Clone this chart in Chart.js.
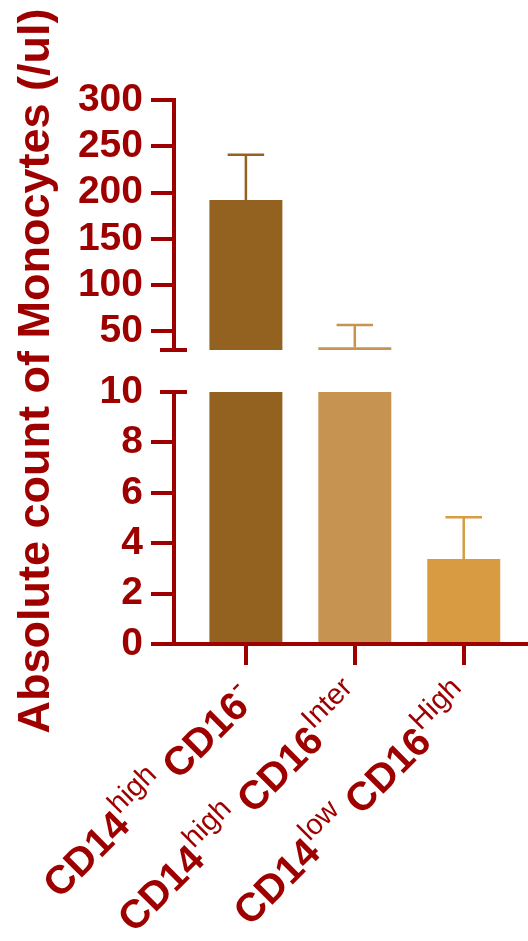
<!DOCTYPE html>
<html>
<head>
<meta charset="utf-8">
<script src="https://cdn.jsdelivr.net/npm/chart.js@4.4.1/dist/chart.umd.min.js"></script>
<style>
  html, body { margin: 0; padding: 0; background: #fff; }
  #wrap { width: 528px; height: 941px; position: relative; }
</style>
</head>
<body>
<div id="wrap"><canvas id="myChart"></canvas></div>
<script>
// data
const categories = [
    ['CD14', 'high', 'CD16', '-'],
    ['CD14', 'high', 'CD16', 'Inter'],
    ['CD14', 'low', 'CD16', 'High']
];
const counts = [192, 33, 3.37];
const errors = [49, 24, 1.66];
const barColors = ['#946220', '#C69450', '#D89B42'];
const lowAxis = [0, 10, 2];      // min, max, step (lower segment)
const highAxis = [30, 300, 50];  // min, max, step (upper segment)
const yTitle = 'Absolute count of Monocytes (/ul)';

const red = '#9E0000';
const family = "'Liberation Sans', Arial, sans-serif";
const mainFont = 'bold 40px ' + family;
const supFont = '29px ' + family;
const raise = 18;

// each bar is cut in two pieces, one per axis segment
const lowData = counts.map((v, i) => ({x: i + 1, y: Math.min(v, lowAxis[1])}));
const highData = counts.map((v, i) => ({x: i + 1, y: v > highAxis[0] ? [highAxis[0], v] : null}));

function fixWidth(scale) {
    scale.width = 174;
}

// upper whisker + cap
const errorBars = {
    id: 'errorBars',
    afterDatasetsDraw(chart) {
        const ctx = chart.ctx;
        ctx.save();
        ctx.lineWidth = 2.5;
        counts.forEach((v, i) => {
            const onHigh = v > lowAxis[1];
            const bar = chart.getDatasetMeta(onHigh ? 1 : 0).data[i];
            const scale = chart.scales[onHigh ? 'yHigh' : 'yLow'];
            const y0 = scale.getPixelForValue(v);
            const y1 = scale.getPixelForValue(v + errors[i]);
            const half = bar.width / 4;
            ctx.strokeStyle = barColors[i];
            ctx.beginPath();
            ctx.moveTo(bar.x, y0);
            ctx.lineTo(bar.x, y1);
            ctx.moveTo(bar.x - half, y1);
            ctx.lineTo(bar.x + half, y1);
            ctx.stroke();
        });
        ctx.restore();
    }
};

// little bars where the y axis is broken
const axisBreak = {
    id: 'axisBreak',
    afterDraw(chart) {
        const ctx = chart.ctx;
        const ax = chart.chartArea.left;
        const ys = [
            chart.scales.yHigh.getPixelForValue(highAxis[0]),
            chart.scales.yLow.getPixelForValue(lowAxis[1])
        ];
        ctx.save();
        ctx.strokeStyle = red;
        ctx.lineWidth = 4;
        ys.forEach(y => {
            ctx.beginPath();
            ctx.moveTo(ax - 14, y);
            ctx.lineTo(ax + 13, y);
            ctx.stroke();
        });
        ctx.restore();
    }
};

// rotated x labels with superscripts
const xLabels = {
    id: 'xLabels',
    afterDraw(chart) {
        const ctx = chart.ctx;
        const x = chart.scales.x;
        ctx.save();
        ctx.fillStyle = red;
        ctx.textAlign = 'left';
        ctx.textBaseline = 'alphabetic';
        categories.forEach((parts, i) => {
            const pieces = [
                [parts[0], mainFont, raise],
                [parts[1], supFont, 0],
                [' ' + parts[2], mainFont, raise],
                [parts[3], supFont, 0]
            ];
            let total = 0;
            pieces.forEach(p => {
                ctx.font = p[1];
                p.push(ctx.measureText(p[0]).width);
                total += p[3];
            });
            ctx.save();
            ctx.translate(x.getPixelForValue(i + 1) - 1, x.top + 45);
            ctx.rotate(-Math.PI / 4);
            let pos = -total;
            pieces.forEach(p => {
                ctx.font = p[1];
                ctx.fillText(p[0], pos, p[2]);
                pos += p[3];
            });
            ctx.restore();
        });
        ctx.restore();
    }
};

const tickFont = {family: family, size: 39, weight: 'bold'};

var ctx = document.getElementById('myChart').getContext('2d');
var myChart = new Chart(ctx, {
    type: 'bar',
    data: {
        datasets: [{
            data: lowData,
            yAxisID: 'yLow',
            backgroundColor: barColors,
            borderWidth: 0,
            grouped: false,
            categoryPercentage: 1,
            barPercentage: 0.67
        }, {
            data: highData,
            yAxisID: 'yHigh',
            backgroundColor: barColors,
            borderWidth: 0,
            grouped: false,
            categoryPercentage: 1,
            barPercentage: 0.67
        }]
    },
    options: {
        responsive: true,
        maintainAspectRatio: false,
        animation: false,
        events: [],
        layout: {
            padding: {top: 100, right: 0, bottom: 276, left: 0}
        },
        plugins: {
            legend: {display: false},
            tooltip: {enabled: false}
        },
        scales: {
            x: {
                type: 'linear',
                offset: false,
                min: 0.34,
                max: 3.59,
                afterBuildTicks: s => { s.ticks = categories.map((c, i) => ({value: i + 1})); },
                ticks: {display: false},
                grid: {offset: false, drawOnChartArea: false, drawTicks: true, tickLength: 21, color: red, lineWidth: 4},
                border: {color: red, width: 4}
            },
            yLow: {
                type: 'linear',
                position: 'left',
                stack: 'y',
                stackWeight: 252,
                weight: 0,
                stacked: false,
                min: lowAxis[0],
                max: lowAxis[1],
                afterFit: fixWidth,
                ticks: {stepSize: lowAxis[2], autoSkip: false, color: red, font: tickFont, padding: 8},
                grid: {
                    drawOnChartArea: false,
                    tickLength: 23,
                    lineWidth: 4,
                    color: c => (c.tick && c.tick.value === lowAxis[1]) ? 'rgba(0,0,0,0)' : red
                },
                border: {color: red, width: 4}
            },
            yGap: {
                type: 'linear',
                position: 'left',
                stack: 'y',
                stackWeight: 42,
                weight: 1,
                min: 0,
                max: 1,
                afterFit: fixWidth,
                ticks: {display: false},
                grid: {display: false},
                border: {display: false},
                title: {
                    display: true,
                    text: yTitle,
                    color: red,
                    font: {family: family, size: 45, weight: 'bold', lineHeight: 1},
                    padding: {top: 14, bottom: 0}
                }
            },
            yHigh: {
                type: 'linear',
                position: 'left',
                stack: 'y',
                stackWeight: 250,
                weight: 2,
                stacked: false,
                min: highAxis[0],
                max: highAxis[1],
                afterFit: fixWidth,
                afterBuildTicks: s => {
                    s.ticks = [];
                    for (let v = highAxis[2]; v <= highAxis[1]; v += highAxis[2]) {
                        if (v > highAxis[0]) s.ticks.push({value: v});
                    }
                },
                ticks: {stepSize: highAxis[2], autoSkip: false, color: red, font: tickFont, padding: 8},
                grid: {drawOnChartArea: false, tickLength: 23, lineWidth: 4, color: red},
                border: {color: red, width: 4}
            }
        }
    },
    plugins: [errorBars, axisBreak, xLabels]
});
</script>
</body>
</html>
